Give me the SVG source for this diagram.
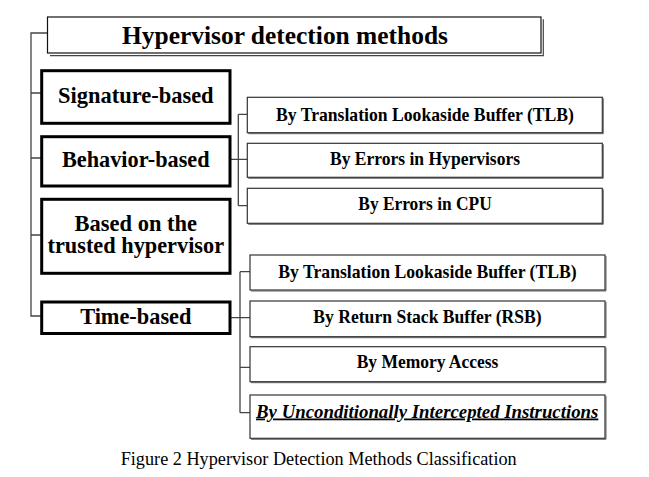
<svg xmlns="http://www.w3.org/2000/svg" width="649" height="477" viewBox="0 0 649 477">
  <defs>
    <style>
      .bg { fill: #ffffff; }
      .title-box { fill: #ffffff; stroke: #111; stroke-width: 1.2; }
      .shadow { fill: none; stroke: #444; stroke-width: 1.2; }
      .main-box { fill: #ffffff; stroke: #000; stroke-width: 3; }
      .sub-box { fill: #ffffff; stroke: #333; stroke-width: 1.2; }
      .sub-shadow { fill: none; stroke: #666; stroke-width: 1; }
      .link { fill: none; stroke: #444; stroke-width: 1.3; }
      text { font-family: "Liberation Serif", "Times New Roman", serif; fill: #000; text-anchor: middle; }
      .t-title { font-size: 26px; font-weight: bold; }
      .t-main { font-size: 22.3px; font-weight: bold; }
      .t-sub { font-size: 17.8px; font-weight: bold; }
      .t-em { font-size: 17.8px; font-weight: bold; font-style: italic; text-decoration: underline; }
      .t-caption { font-size: 19px; }
    </style>
  </defs>

  <rect class="bg" x="0" y="0" width="649" height="477"/>

  <g font-family="'Liberation Serif', 'Times New Roman', serif">
  <!-- tree connectors -->
  <g id="connectors">
    <!-- root to first-level categories -->
    <path class="link" d="M47.5 33 H31 V316 H42"/>
    <path class="link" d="M31 93 H42 M31 158 H42 M31 235 H42"/>
    <!-- behavior-based branches -->
    <path class="link" d="M230 159.3 H247.3 M238.3 114.3 V205.7 M238.3 114.3 H247.3 M238.3 205.7 H247.3"/>
    <!-- time-based branches -->
    <path class="link" d="M230 317.7 H250 M240 271.7 V412.7 M240 271.7 H250 M240 367.3 H250 M240 412.7 H250"/>
  </g>

  <!-- root -->
  <g id="root">
    <path class="shadow" d="M50 55.7 H543.3 V19.3"/>
    <rect class="title-box" x="47.5" y="17" width="493.5" height="36"/>
    <text class="t-title" x="285" y="43.5" textLength="326" lengthAdjust="spacingAndGlyphs">Hypervisor detection methods</text>
  </g>

  <!-- first-level categories -->
  <g id="signature-based">
    <rect class="main-box" x="41.7" y="70.7" width="188.3" height="52.6"/>
    <text class="t-main" x="135.8" y="103" textLength="155.6" lengthAdjust="spacingAndGlyphs">Signature-based</text>
  </g>
  <g id="behavior-based">
    <rect class="main-box" x="41.7" y="136.7" width="188.3" height="49.3"/>
    <text class="t-main" x="135.8" y="166.5" textLength="147.6" lengthAdjust="spacingAndGlyphs">Behavior-based</text>
  </g>
  <g id="trusted-hypervisor">
    <rect class="main-box" x="41.7" y="199.3" width="188.3" height="74"/>
    <text class="t-main"><tspan x="135.8" y="230.5" textLength="122.4" lengthAdjust="spacingAndGlyphs">Based on the</tspan><tspan x="135.8" y="253" textLength="176.6" lengthAdjust="spacingAndGlyphs">trusted hypervisor</tspan></text>
  </g>
  <g id="time-based">
    <rect class="main-box" x="41.7" y="302" width="188.3" height="31.5"/>
    <text class="t-main" x="135.8" y="324" textLength="111.3" lengthAdjust="spacingAndGlyphs">Time-based</text>
  </g>

  <!-- behavior-based methods -->
  <g id="behavior-tlb">
    <path class="sub-shadow" d="M248.3 133.7 H603.3 V98.3"/>
    <rect class="sub-box" x="247.3" y="97.3" width="355" height="35.4"/>
    <text class="t-sub" x="425" y="120.7" textLength="298" lengthAdjust="spacingAndGlyphs">By Translation Lookaside Buffer (TLB)</text>
  </g>
  <g id="behavior-hv-errors">
    <path class="sub-shadow" d="M248.3 178.3 H603.3 V144.3"/>
    <rect class="sub-box" x="247.3" y="143.3" width="355" height="34"/>
    <text class="t-sub" x="425" y="165.3" textLength="190" lengthAdjust="spacingAndGlyphs">By Errors in Hypervisors</text>
  </g>
  <g id="behavior-cpu-errors">
    <path class="sub-shadow" d="M248.3 224.3 H603.3 V189.3"/>
    <rect class="sub-box" x="247.3" y="188.3" width="355" height="35"/>
    <text class="t-sub" x="425" y="210" textLength="133.4" lengthAdjust="spacingAndGlyphs">By Errors in CPU</text>
  </g>

  <!-- time-based methods -->
  <g id="time-tlb">
    <path class="sub-shadow" d="M251 291 H606 V256"/>
    <rect class="sub-box" x="250" y="255" width="355" height="35"/>
    <text class="t-sub" x="427.5" y="277.5" textLength="298.4" lengthAdjust="spacingAndGlyphs">By Translation Lookaside Buffer (TLB)</text>
  </g>
  <g id="time-rsb">
    <path class="sub-shadow" d="M251 337.7 H606 V302"/>
    <rect class="sub-box" x="250" y="301" width="355" height="35.7"/>
    <text class="t-sub" x="427.5" y="323" textLength="228.4" lengthAdjust="spacingAndGlyphs">By Return Stack Buffer (RSB)</text>
  </g>
  <g id="time-memory">
    <path class="sub-shadow" d="M251 382.7 H606 V347.7"/>
    <rect class="sub-box" x="250" y="346.7" width="355" height="35"/>
    <text class="t-sub" x="427.5" y="368" textLength="141.6" lengthAdjust="spacingAndGlyphs">By Memory Access</text>
  </g>
  <g id="time-intercepted">
    <path class="sub-shadow" d="M251 439.3 H606 V396"/>
    <rect class="sub-box" x="250" y="395" width="355" height="43.3"/>
    <text class="t-em" x="427.2" y="417.5" textLength="342.3" lengthAdjust="spacingAndGlyphs">By Unconditionally Intercepted Instructions</text>
  </g>

  <!-- caption -->
  <text class="t-caption" x="318.7" y="465" textLength="396" lengthAdjust="spacingAndGlyphs">Figure 2 Hypervisor Detection Methods Classification</text>
  </g>
</svg>
